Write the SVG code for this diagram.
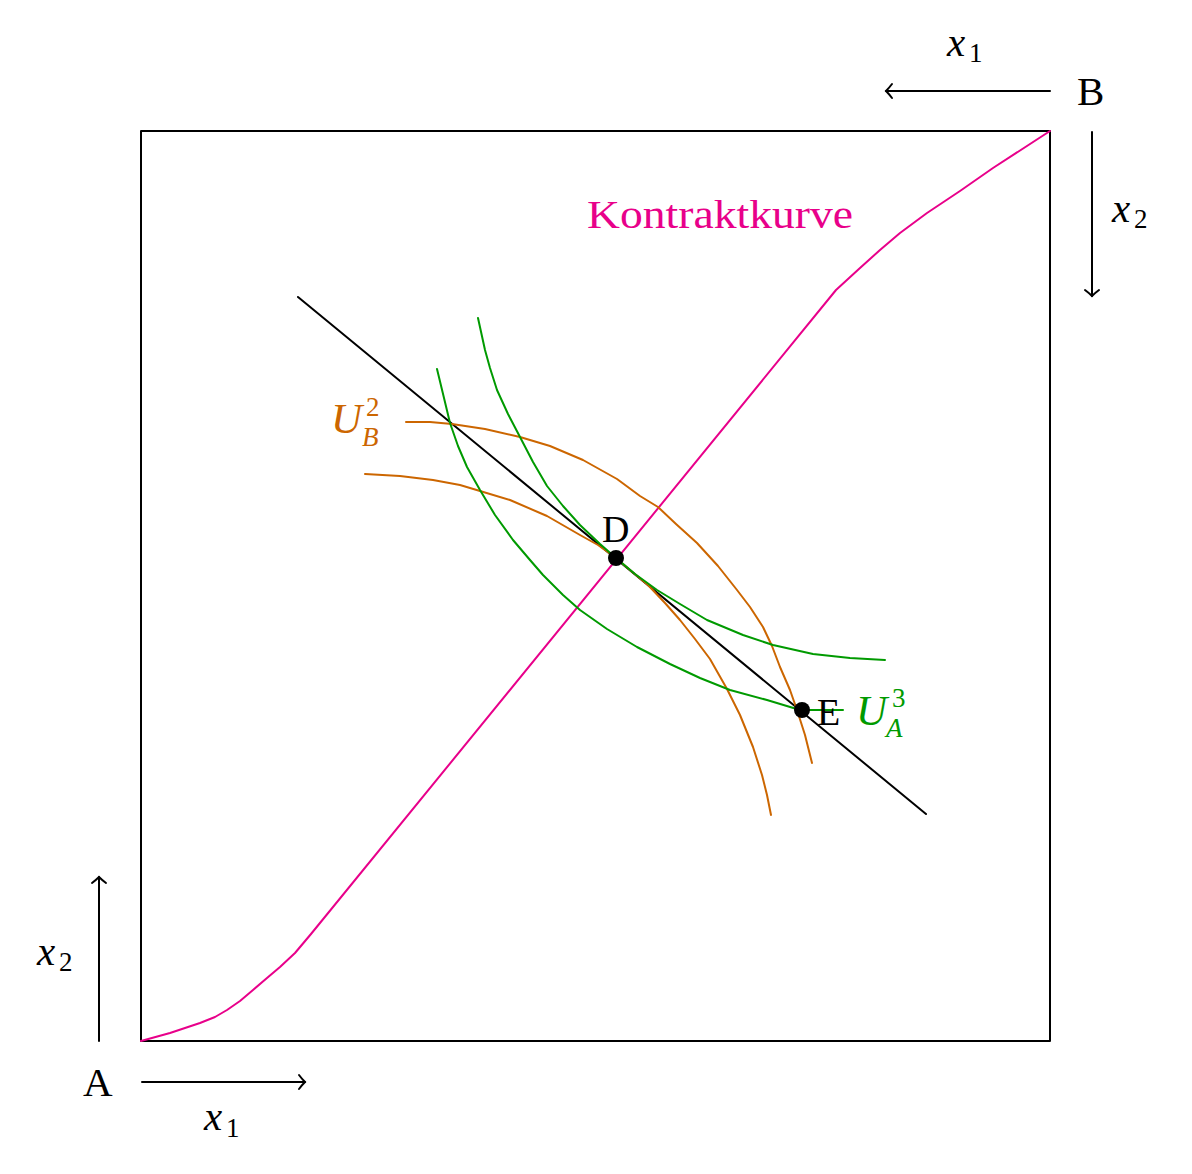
<svg xmlns="http://www.w3.org/2000/svg" width="1192" height="1174" viewBox="0 0 1192 1174">
<style>
.ln{fill:none;stroke-width:2;stroke-linejoin:round;stroke-linecap:round}
.k{stroke:#000}
.m{stroke:#E8008A}
.o{stroke:#CC6600}
.g{stroke:#009A00}
.t{font-family:"Liberation Serif","Times New Roman",serif;font-size:41px;fill:#000}
.i{font-style:italic}
.s{font-size:27px}
</style>
<defs>
<marker id="arr" markerUnits="userSpaceOnUse" markerWidth="20" markerHeight="20" refX="0" refY="0" orient="auto" overflow="visible">
<path d="M-6,-7 C-3,-3 -1,-1 0,0 C-1,1 -3,3 -6,7" fill="none" stroke="#000" stroke-width="2" stroke-linecap="round"/>
</marker>
</defs>
<rect width="1192" height="1174" fill="#fff"/>
<g id="box"><rect x="141" y="131" width="909" height="910" class="ln k"/></g>
<g id="connectors">
<line x1="1050" y1="91" x2="886" y2="91" class="ln k" marker-end="url(#arr)"/>
<line x1="1092" y1="132" x2="1092" y2="296" class="ln k" marker-end="url(#arr)"/>
<line x1="99" y1="1041" x2="99" y2="877" class="ln k" marker-end="url(#arr)"/>
<line x1="142" y1="1082" x2="305" y2="1082" class="ln k" marker-end="url(#arr)"/>
</g>
<g id="contract-curve">
<polyline class="ln m" points="141,1041 170,1033 200,1023 215,1017 227,1010 240,1001 253,990 267,978 280,967 295,953 311,934 836,290 860,268 880,250 900,233 927,213 960,191 993,168 1050,131"/>
</g>
<g id="budget-line"><line x1="298" y1="297" x2="926" y2="814" class="ln k"/></g>
<g id="U_B">
<polyline class="ln o" points="406,422 430,422 452,424 485,429 520,437 550,446 583,460 617,479 640,496 658,507 676,524 697,543 718,566 737,590 750,607 763,627 772,646 780,667 790,690 797,710 805,735 812,763"/>
<polyline class="ln o" points="365,474 400,476 433,480 460,485 480,491 510,500 547,516 580,535 598,545 616,558 630,570 648,585 665,603 680,620 695,639 710,659 727,689 740,715 753,747 762,775 767,795 771,815"/>
</g>
<g id="U_A">
<polyline class="ln g" points="478,318 485,350 490,368 497,390 508,414 520,437 533,462 547,486 563,506 580,525 600,544 616,558 635,574 657,590 680,604 707,620 743,635 773,645 813,654 850,658 885,660"/>
<polyline class="ln g" points="437,369 444,398 450,423 458,446 467,467 480,490 495,515 513,540 530,560 543,575 563,595 580,610 607,629 637,647 670,664 700,678 730,690 767,700 800,710 843,710"/>
</g>
<g id="point-D"><circle cx="616" cy="558" r="8" fill="#000"/><text class="t" x="602" y="542" style="font-size:38px">D</text></g>
<g id="point-E"><circle cx="802" cy="710" r="8" fill="#000"/><text class="t" x="817" y="725" style="font-size:38px">E</text></g>
<g id="labels">
<text class="t" x="587" y="228" style="fill:#E8008A" textLength="266" lengthAdjust="spacingAndGlyphs">Kontraktkurve</text>
<text class="t" x="1077" y="105">B</text>
<text class="t" x="83" y="1096">A</text>
<text class="t i" x="947" y="56">x</text><text class="t s" x="969" y="62">1</text>
<text class="t i" x="1112" y="222">x</text><text class="t s" x="1134" y="228">2</text>
<text class="t i" x="37" y="965">x</text><text class="t s" x="59" y="971">2</text>
<text class="t i" x="204" y="1130">x</text><text class="t s" x="226" y="1137">1</text>
<text class="t i" x="331" y="433" style="fill:#CC6600;font-size:43px">U</text><text class="t s" x="366" y="416" style="fill:#CC6600">2</text><text class="t s i" x="362" y="446" style="fill:#CC6600">B</text>
<text class="t i" x="856" y="725" style="fill:#009A00;font-size:43px">U</text><text class="t s" x="892" y="707" style="fill:#009A00">3</text><text class="t s i" x="886" y="737" style="fill:#009A00">A</text>
</g>
</svg>
